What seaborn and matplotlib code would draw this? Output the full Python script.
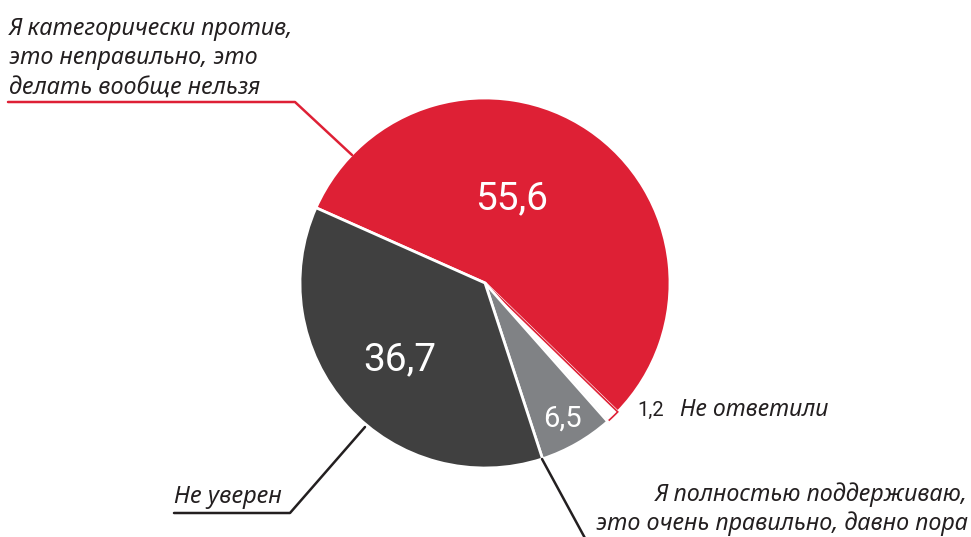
import matplotlib
matplotlib.use("Agg")
import matplotlib.pyplot as plt
from matplotlib.lines import Line2D
import seaborn as sns

# data
labels = ["Я категорически против,\nэто неправильно, это\nделать вообще нельзя",
          "Не ответили",
          "Я полностью поддерживаю,\nэто очень правильно, давно пора",
          "Не уверен"]
values = [55.6, 1.2, 6.5, 36.7]
value_text = ["55,6", "1,2", "6,5", "36,7"]
colors = ["#DE2035", "#FFFFFF", "#808285", "#404040"]

sns.set_style("white")
plt.rcParams['font.family'] = ['Noto Sans', 'DejaVu Sans']

W, H = 971, 537
fig = plt.figure(figsize=(W / 100, H / 100), dpi=100)

# pie axes: centre (485, 283) px, radius 185 px
cx, cy, r = 485, 283, 185
ax = fig.add_axes([(cx - r) / W, (H - cy - r) / H, 2 * r / W, 2 * r / H])
wedges, _ = ax.pie(values, colors=colors, startangle=156, counterclock=False,
                   radius=1, wedgeprops=dict(edgecolor="white", linewidth=2))
# the "no answer" slice: white with red outline
wedges[1].set_edgecolor("#DE2035")
wedges[1].set_linewidth(1.2)
ax.set_xlim(-1, 1)
ax.set_ylim(-1, 1)
ax.axis("off")


def fx(x):
    return x / W


def fy(y):
    return 1 - y / H


num_font = ['Roboto', 'DejaVu Sans']
# numbers inside slices
fig.text(fx(512), fy(199), value_text[0], color="white", fontsize=28,
         family=num_font, ha="center", va="center")
fig.text(fx(400), fy(360), value_text[3], color="white", fontsize=28,
         family=num_font, ha="center", va="center")
fig.text(fx(562), fy(419), value_text[2], color="white", fontsize=21,
         family=num_font, ha="center", va="center")

# leader lines
red = "#DE2035"
fig.add_artist(Line2D([fx(8), fx(295), fx(352)], [fy(102), fy(102), fy(155)],
                      color=red, lw=1.8))
fig.add_artist(Line2D([fx(174), fx(290), fx(365)], [fy(513), fy(513), fy(427)],
                      color="#231F20", lw=1.8))
fig.add_artist(Line2D([fx(542), fx(586)], [fy(459), fy(540)],
                      color="#231F20", lw=1.8))

# labels
fig.text(fx(9), fy(58), labels[0], fontsize=16.8, style="italic",
         color="#231F20", ha="left", va="center", linespacing=1.3)
fig.text(fx(174), fy(497), labels[3], fontsize=17, style="italic",
         color="#231F20", ha="left", va="center")
fig.text(fx(968), fy(509), labels[2], fontsize=16.8, style="italic",
         color="#231F20", ha="right", va="center", linespacing=1.25)
fig.text(fx(637), fy(410), value_text[1], fontsize=14.5,
         family=num_font, color="#231F20", ha="left", va="center")
fig.text(fx(680), fy(410), labels[1], fontsize=16.6, style="italic",
         color="#231F20", ha="left", va="center")

fig.savefig("out.png", dpi=100)
